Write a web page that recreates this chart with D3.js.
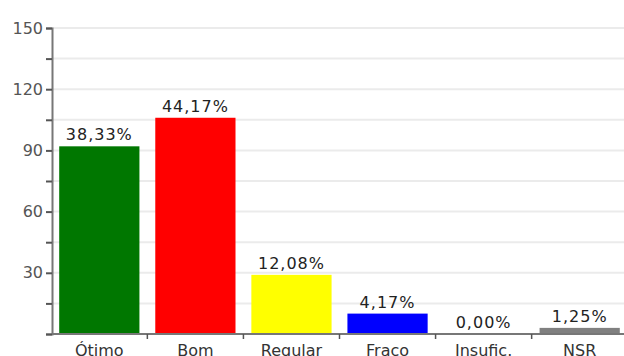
<!DOCTYPE html>
<html>
<head>
<meta charset="utf-8">
<script src="https://cdn.jsdelivr.net/npm/d3@7"></script>
<style>
  html, body { margin: 0; padding: 0; background: #fff; }
  svg { display: block; }
  text { font-family: "DejaVu Sans", sans-serif; }
</style>
</head>
<body>
<svg id="chart" width="624" height="356"></svg>
<script>
// Response counts per rating category
const categories = ["Ótimo", "Bom", "Regular", "Fraco", "Insufic.", "NSR"];
const counts = [92, 106, 29, 10, 0, 3];
const barColors = ["#007700", "#ff0000", "#ffff00", "#0000ff", "#c0c0c0", "#808080"];
const yTicks = [0, 15, 30, 45, 60, 75, 90, 105, 120, 135, 150];
const yLabels = [30, 60, 90, 120, 150];

const total = d3.sum(counts);
const pct = v => (v / total * 100).toFixed(2).replace(".", ",") + "%";

const svg = d3.select("#chart");
const plotLeft = 52, plotRight = 627, plotTop = 28, plotBottom = 334;

const x = d3.scaleBand().domain(categories).range([plotLeft, plotRight])
  .paddingInner(0.165).paddingOuter(0.075);
const y = d3.scaleLinear().domain([0, 150]).range([plotBottom, plotTop]);

// horizontal gridlines
svg.append("g").selectAll("line").data(yTicks.filter(t => t > 0)).join("line")
  .attr("x1", plotLeft).attr("x2", 624)
  .attr("y1", d => y(d)).attr("y2", d => y(d))
  .attr("stroke", "#ebebeb").attr("stroke-width", 2);

// bars
svg.append("g").selectAll("rect").data(counts).join("rect")
  .attr("x", (d, i) => x(categories[i]))
  .attr("width", x.bandwidth())
  .attr("y", d => y(d))
  .attr("height", d => y(0) - y(d))
  .attr("fill", (d, i) => barColors[i]);

// value labels
svg.append("g").selectAll("text").data(counts).join("text")
  .attr("x", (d, i) => x(categories[i]) + x.bandwidth() / 2)
  .attr("y", d => y(d) - 6)
  .attr("text-anchor", "middle")
  .attr("font-size", 16)
  .attr("letter-spacing", 1)
  .attr("fill", "#222")
  .text(d => pct(d));

// y axis
const yAxis = svg.append("g").attr("transform", `translate(${plotLeft},0)`)
  .call(d3.axisLeft(y).tickValues(yTicks).tickSize(6)
    .tickFormat(d => yLabels.includes(d) ? d : ""));
yAxis.select(".domain").attr("stroke", "#777").attr("stroke-width", 2);
yAxis.selectAll(".tick line").attr("stroke", "#555").attr("stroke-width", 2);
yAxis.selectAll(".tick text")
  .attr("x", -9).attr("font-size", 16).attr("fill", "#555")
  .attr("font-family", "DejaVu Sans, sans-serif");

// x axis line with boundary ticks between categories
const xg = svg.append("g");
xg.append("line").attr("x1", plotLeft).attr("x2", 624)
  .attr("y1", plotBottom).attr("y2", plotBottom)
  .attr("stroke", "#777").attr("stroke-width", 2);
const bounds = categories.slice(1).map(c => x(c) - x.step() * x.paddingInner() / 2);
xg.selectAll("line.tk").data(bounds).join("line").attr("class", "tk")
  .attr("x1", d => d).attr("x2", d => d)
  .attr("y1", plotBottom).attr("y2", plotBottom + 5)
  .attr("stroke", "#555").attr("stroke-width", 1.5);

// category labels
xg.selectAll("text").data(categories).join("text")
  .attr("x", d => x(d) + x.bandwidth() / 2)
  .attr("y", 356)
  .attr("text-anchor", "middle")
  .attr("font-size", 16)
  .attr("fill", "#333")
  .text(d => d);
</script>
</body>
</html>
